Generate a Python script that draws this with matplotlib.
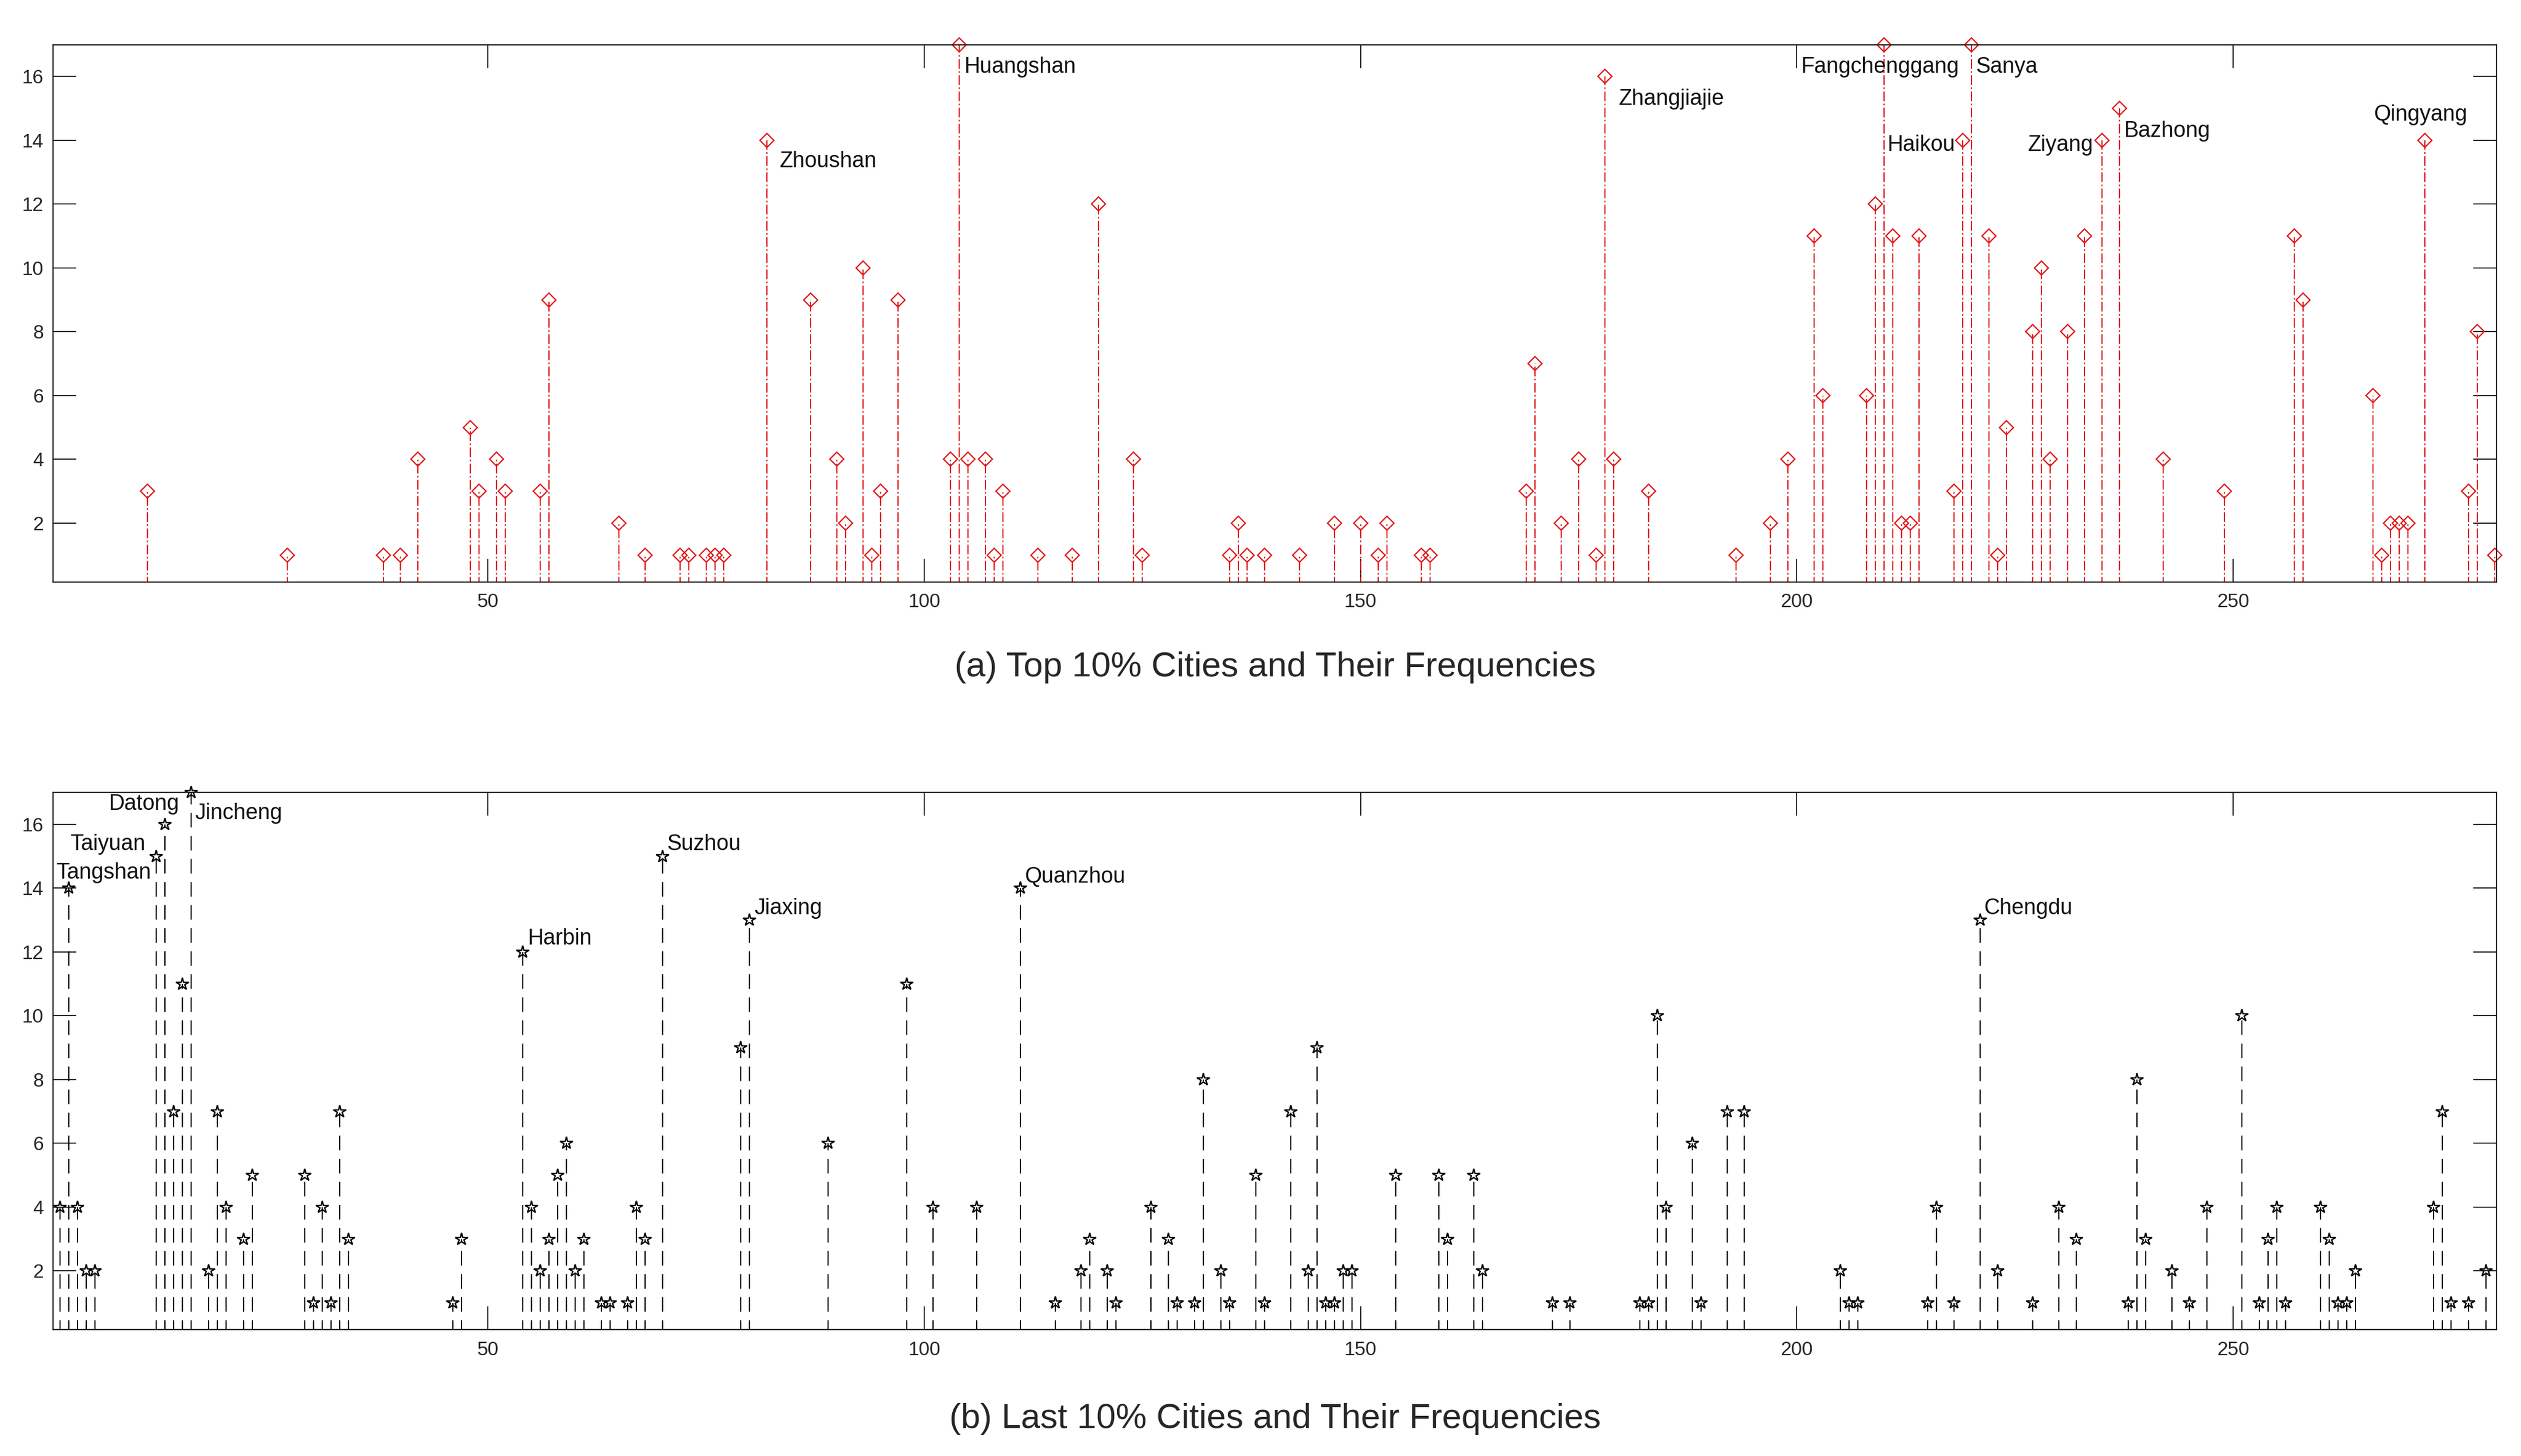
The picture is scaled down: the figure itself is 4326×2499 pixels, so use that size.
import matplotlib
matplotlib.use('Agg')
import matplotlib.pyplot as plt

# ---------------- data ----------------
top_idx = [11, 27, 38, 40, 42, 48, 49, 51, 52, 56, 57, 65, 68, 72, 73, 75, 76, 77, 82, 87,
           90, 91, 93, 94, 95, 97, 103, 104, 105, 107, 108, 109, 113, 117, 120, 124, 125,
           135, 136, 137, 139, 143, 147, 150, 152, 153, 157, 158, 169, 170, 173, 175, 177,
           178, 179, 183, 193, 197, 199, 202, 203, 208, 209, 210, 211, 212, 213, 214, 218,
           219, 220, 222, 223, 224, 227, 228, 229, 231, 233, 235, 237, 242, 249, 257, 258,
           266, 267, 268, 269, 270, 272, 277, 278, 280]
top_freq = [3, 1, 1, 1, 4, 5, 3, 4, 3, 3, 9, 2, 1, 1, 1, 1, 1, 1, 14, 9,
            4, 2, 10, 1, 3, 9, 4, 17, 4, 4, 1, 3, 1, 1, 12, 4, 1,
            1, 2, 1, 1, 1, 2, 2, 1, 2, 1, 1, 3, 7, 2, 4, 1,
            16, 4, 3, 1, 2, 4, 11, 6, 6, 12, 17, 11, 2, 2, 11, 3,
            14, 17, 11, 1, 5, 8, 10, 4, 8, 11, 14, 15, 4, 3, 11, 9,
            6, 1, 2, 2, 2, 14, 3, 8, 1]

bot_idx = [1, 2, 3, 4, 5, 12, 13, 14, 15, 16, 18, 19, 20, 22, 23, 29, 30, 31, 32, 33, 34,
           46, 47, 54, 55, 56, 57, 58, 59, 60, 61, 63, 64, 66, 67, 68, 70, 79, 80, 89, 98,
           101, 106, 111, 115, 118, 119, 121, 122, 126, 128, 129, 131, 132, 134, 135, 138,
           139, 142, 144, 145, 146, 147, 148, 149, 154, 159, 160, 163, 164, 172, 174, 182,
           183, 184, 185, 188, 189, 192, 194, 205, 206, 207, 215, 216, 218, 221, 223, 227,
           230, 232, 238, 239, 240, 243, 245, 247, 251, 253, 254, 255, 256, 260, 261, 262,
           263, 264, 273, 274, 275, 277, 279]
bot_freq = [4, 14, 4, 2, 2, 15, 16, 7, 11, 17, 2, 7, 4, 3, 5, 5, 1, 4, 1, 7, 3,
            1, 3, 12, 4, 2, 3, 5, 6, 2, 3, 1, 1, 1, 4, 3, 15, 9, 13, 6, 11,
            4, 4, 14, 1, 2, 3, 2, 1, 4, 3, 1, 1, 8, 2, 1, 5,
            1, 7, 2, 9, 1, 1, 2, 2, 5, 5, 3, 5, 2, 1, 1, 1,
            1, 10, 4, 6, 1, 7, 7, 2, 1, 1, 1, 4, 1, 13, 2, 1,
            4, 3, 1, 8, 3, 2, 1, 4, 10, 1, 3, 4, 1, 4, 3, 1,
            1, 2, 4, 7, 1, 1, 2]

top_names = ["Zhoushan", "Huangshan", "Zhangjiajie", "Fangchenggang", "Haikou",
             "Sanya", "Ziyang", "Bazhong", "Qingyang"]
bot_names = ["Tangshan", "Taiyuan", "Datong", "Jincheng", "Harbin", "Suzhou",
             "Jiaxing", "Quanzhou", "Chengdu"]

x_ticks = [50, 100, 150, 200, 250]
y_ticks = [2, 4, 6, 8, 10, 12, 14, 16]

title_a = "(a) Top 10% Cities and Their Frequencies"
title_b = "(b) Last 10% Cities and Their Frequencies"

# label anchor positions (data coords) - layout only
top_lab_pos = [(83.4, 13.35), (104.6, 16.3), (179.6, 15.3), (200.5, 16.3), (210.4, 13.85),
               (220.5, 16.3), (226.5, 13.85), (237.5, 14.3), (266.1, 14.8)]
bot_lab_pos = [(0.5, 14.48), (2.1, 15.38), (6.6, 16.63), (16.4, 16.35), (54.6, 12.42),
               (70.5, 15.38), (80.5, 13.37), (111.5, 14.36), (221.4, 13.37)]

# ---------------- style ----------------
plt.rcParams['font.family'] = ['Liberation Sans', 'DejaVu Sans']
plt.rcParams['lines.scale_dashes'] = False

RED = '#e01818'
DARK = '#262626'

fig = plt.figure(figsize=(43.26, 24.99), dpi=100)
ax1 = fig.add_axes([0.02115, 0.6004, 0.9692, 0.3689])
ax2 = fig.add_axes([0.02115, 0.0868, 0.9692, 0.3689])


def style(ax):
    ax.set_xlim(0.2, 280.2)
    ax.set_ylim(0.16, 17)
    ax.set_xticks(x_ticks)
    ax.set_yticks(y_ticks)
    ax.tick_params(direction='in', length=29, width=1.4, top=True, right=True,
                   labelsize=24, colors=DARK)
    ax.tick_params(axis='x', pad=14)
    ax.tick_params(axis='y', pad=12)
    for s in ax.spines.values():
        s.set_linewidth(1.5)
        s.set_color(DARK)


# top panel
ax1.vlines(top_idx, 0, top_freq, colors=RED, linewidth=1.5,
           linestyles=[(0, (12, 3, 2, 3))])
ax1.plot(top_idx, top_freq, linestyle='none', marker='D', ms=12, mfc='none',
         mec=RED, mew=1.6, clip_on=False)
style(ax1)
for name, (lx, ly) in zip(top_names, top_lab_pos):
    ax1.text(lx, ly, name, fontsize=27, ha='left', va='center', color='#111111')

# bottom panel
ax2.vlines(bot_idx, 0, bot_freq, colors='black', linewidth=1.5,
           linestyles=[(0, (18, 10.5))])
ax2.plot(bot_idx, bot_freq, linestyle='none', marker='*', ms=16, mfc='none',
         mec='black', mew=1.7, clip_on=False)
style(ax2)
for name, (lx, ly) in zip(bot_names, bot_lab_pos):
    ax2.text(lx, ly, name, fontsize=27, ha='left', va='center', color='#111111')

cx = 0.02115 + 0.9692 / 2
fig.text(cx, 0.5418, title_a, ha='center', va='center', fontsize=43, color=DARK)
fig.text(cx, 0.0256, title_b, ha='center', va='center', fontsize=43, color=DARK)

fig.savefig('out.png', dpi=100, facecolor='white')
